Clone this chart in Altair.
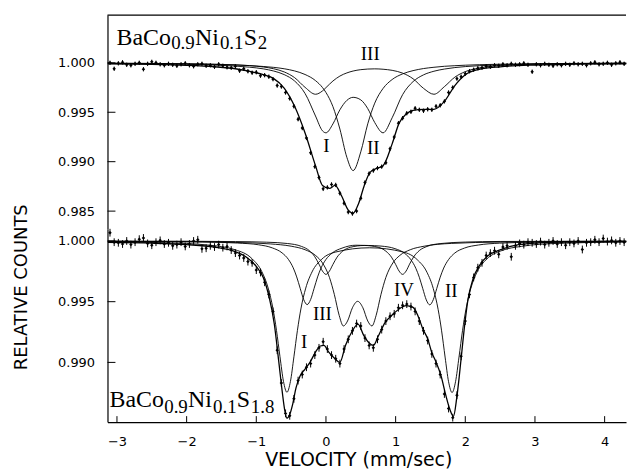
import altair as alt
import pandas as pd

# ---------------- data ----------------
velocity = [
    -3.10, -3.04, -2.98, -2.92, -2.86, -2.80, -2.74, -2.68, -2.62, -2.56,
    -2.50, -2.44, -2.38, -2.32, -2.26, -2.20, -2.14, -2.08, -2.02, -1.96,
    -1.90, -1.84, -1.78, -1.72, -1.66, -1.60, -1.54, -1.48, -1.42, -1.36,
    -1.30, -1.24, -1.18, -1.12, -1.06, -1.00, -0.94, -0.88, -0.82, -0.76,
    -0.70, -0.64, -0.58, -0.52, -0.46, -0.40, -0.34, -0.28, -0.22, -0.16,
    -0.10, -0.04, 0.02, 0.08, 0.14, 0.20, 0.26, 0.32, 0.38, 0.44,
    0.50, 0.56, 0.62, 0.68, 0.74, 0.80, 0.86, 0.92, 0.98, 1.04,
    1.10, 1.16, 1.22, 1.28, 1.34, 1.40, 1.46, 1.52, 1.58, 1.64,
    1.70, 1.76, 1.82, 1.88, 1.94, 2.00, 2.06, 2.12, 2.18, 2.24,
    2.30, 2.36, 2.42, 2.48, 2.54, 2.60, 2.66, 2.72, 2.78, 2.84,
    2.90, 2.96, 3.02, 3.08, 3.14, 3.20, 3.26, 3.32, 3.38, 3.44,
    3.50, 3.56, 3.62, 3.68, 3.74, 3.80, 3.86, 3.92, 3.98, 4.04,
    4.10, 4.16, 4.22, 4.28,
]

top_counts = [
    1.00000, 0.99940, 0.99995, 1.00005, 0.99980, 0.99975, 0.99990, 1.00000, 0.99935, 0.99990,
    1.00010, 1.00000, 0.99985, 0.99975, 0.99990, 0.99980, 0.99970, 0.99985, 0.99995, 0.99975,
    0.99965, 0.99985, 0.99990, 0.99970, 0.99975, 0.99960, 0.99985, 0.99970, 0.99955, 0.99950,
    0.99965, 0.99920, 0.99940, 0.99915, 0.99900, 0.99905, 0.99870, 0.99875, 0.99860, 0.99835,
    0.99770, 0.99760, 0.99700, 0.99640, 0.99560, 0.99430, 0.99340, 0.99240, 0.99090, 0.98950,
    0.98840, 0.98725, 0.98740, 0.98770, 0.98765, 0.98680, 0.98580, 0.98490, 0.98475, 0.98500,
    0.98630, 0.98790, 0.98880, 0.98910, 0.98935, 0.98950, 0.98990, 0.99130, 0.99250, 0.99390,
    0.99440, 0.99490, 0.99505, 0.99540, 0.99525, 0.99515, 0.99530, 0.99525, 0.99560, 0.99570,
    0.99610, 0.99700, 0.99750, 0.99840, 0.99860, 0.99890, 0.99915, 0.99930, 0.99945, 0.99950,
    0.99965, 0.99960, 0.99975, 0.99970, 0.99985, 0.99975, 0.99990, 0.99980, 0.99985, 0.99995,
    0.99980, 0.99910, 0.99985, 0.99975, 0.99990, 0.99980, 0.99970, 0.99985, 0.99975, 0.99990,
    0.99980, 0.99995, 0.99985, 0.99990, 0.99975, 0.99995, 1.00005, 0.99985, 0.99990, 1.00000,
    0.99980, 0.99995, 1.00005, 0.99990,
]

bottom_counts = [
    1.00068, 0.99990, 0.99985, 0.99975, 1.00000, 0.99970, 0.99990, 1.00015, 1.00025, 0.99980,
    0.99965, 0.99990, 1.00005, 0.99975, 0.99985, 0.99960, 0.99970, 0.99990, 0.99955, 0.99975,
    1.00000, 1.00010, 0.99935, 0.99940, 0.99960, 0.99950, 0.99970, 0.99945, 0.99955, 0.99925,
    0.99900, 0.99880, 0.99860, 0.99830, 0.99820, 0.99760, 0.99740, 0.99660, 0.99560, 0.99420,
    0.99100, 0.98830, 0.98580, 0.98560, 0.98700, 0.98850, 0.98900, 0.98960, 0.98990, 0.99060,
    0.99120, 0.99170, 0.99110, 0.99060, 0.99030, 0.98990, 0.99110, 0.99190, 0.99260, 0.99320,
    0.99300, 0.99200, 0.99140, 0.99120, 0.99190, 0.99270, 0.99340, 0.99380, 0.99400, 0.99450,
    0.99470, 0.99480, 0.99460, 0.99420, 0.99340, 0.99260, 0.99180, 0.99070, 0.98990, 0.98900,
    0.98740, 0.98620, 0.98545, 0.98730, 0.99050, 0.99340, 0.99560, 0.99700, 0.99780, 0.99820,
    0.99880, 0.99900, 0.99920, 0.99890, 0.99950, 0.99960, 0.99870, 0.99960, 0.99980, 0.99970,
    0.99990, 0.99985, 0.99975, 0.99995, 0.99970, 0.99985, 1.00000, 0.99975, 0.99990, 0.99965,
    0.99990, 0.99980, 1.00000, 0.99930, 0.99985, 0.99990, 1.00010, 0.99990, 1.00020, 0.99995,
    1.00005, 0.99985, 1.00000, 0.99990,
]

# top panel: total fit
top_fit_v = [-3.13, -2.5, -2.0, -1.6, -1.3, -1.1, -0.9, -0.75, -0.6, -0.45,
             -0.3, -0.15, -0.05, 0.05, 0.13, 0.22, 0.32, 0.39, 0.47, 0.55,
             0.63, 0.72, 0.82, 0.95, 1.05, 1.15, 1.25, 1.4, 1.55, 1.7,
             1.85, 2.0, 2.2, 2.5, 3.0, 3.6, 4.31]
top_fit_total = [0.9999, 0.99985, 0.99975, 0.9996, 0.9994, 0.99915, 0.9988, 0.9984, 0.99745, 0.9956,
                 0.9929, 0.9896, 0.9876, 0.9873, 0.9876, 0.9866, 0.9851, 0.9848, 0.9858, 0.9876,
                 0.9889, 0.9893, 0.9896, 0.9918, 0.9939, 0.9948, 0.9952, 0.9953, 0.9953, 0.9961,
                 0.9977, 0.9988, 0.99935, 0.9996, 0.99978, 0.99986, 0.9999]

# top panel: sub-spectra on a common velocity grid
top_grid = [-3.13, -2.5, -2.0, -1.6, -1.3, -1.1, -0.9, -0.75, -0.6, -0.45,
            -0.3, -0.15, -0.05, 0.0, 0.1, 0.2, 0.3, 0.39, 0.5, 0.6,
            0.7, 0.82, 0.95, 1.1, 1.25, 1.4, 1.55, 1.7, 1.85, 2.0,
            2.2, 2.5, 3.0, 3.6, 4.31]
top_sub_I_II = [0.99993, 0.9999, 0.99985, 0.99977, 0.99967, 0.99956, 0.99939, 0.99917, 0.99881, 0.99816,
                0.9969, 0.99462, 0.99312, 0.99292, 0.99382, 0.99525, 0.9962, 0.99651, 0.99625, 0.99537,
                0.99396, 0.99292, 0.99444, 0.99678, 0.9981, 0.99878, 0.99915, 0.99937, 0.99952, 0.99962,
                0.99971, 0.99979, 0.99987, 0.99992, 0.99995]
top_sub_center = [0.99995, 0.99993, 0.99989, 0.99984, 0.99978, 0.99972, 0.99963, 0.99954, 0.9994, 0.99918,
                  0.99882, 0.9982, 0.9975, 0.997, 0.99557, 0.9933, 0.99044, 0.9891, 0.991, 0.99383,
                  0.99592, 0.99741, 0.99831, 0.99888, 0.99921, 0.99942, 0.99955, 0.99965, 0.99971, 0.99976,
                  0.99981, 0.99986, 0.99991, 0.99994, 0.99996]
top_sub_III = [0.99996, 0.99994, 0.99991, 0.99986, 0.9998, 0.99972, 0.99958, 0.9994, 0.99908, 0.9985,
               0.99752, 0.99682, 0.99716, 0.99749, 0.99816, 0.99866, 0.99898, 0.99917, 0.99931, 0.99937,
               0.99939, 0.99935, 0.99924, 0.99896, 0.99839, 0.99742, 0.99682, 0.99759, 0.99855, 0.99911,
               0.99948, 0.99972, 0.99987, 0.99993, 0.99996]

# bottom panel: total fit
bot_fit_v = [-3.13, -2.5, -2.0, -1.6, -1.3, -1.15, -1.0, -0.9, -0.82, -0.74,
             -0.68, -0.63, -0.59, -0.56, -0.52, -0.48, -0.43, -0.37, -0.30, -0.23,
             -0.15, -0.08, -0.03, 0.04, 0.13, 0.20, 0.28, 0.37, 0.46, 0.54,
             0.62, 0.68, 0.75, 0.85, 0.95, 1.05, 1.15, 1.25, 1.32, 1.39,
             1.46, 1.52, 1.58, 1.65, 1.72, 1.78, 1.83, 1.88, 1.94, 1.99,
             2.04, 2.11, 2.20, 2.32, 2.46, 2.65, 2.9, 3.4, 4.31]
bot_fit_total = [0.99988, 0.99982, 0.9997, 0.9995, 0.99912, 0.9987, 0.9979, 0.997, 0.9955, 0.9931,
                 0.9902, 0.9877, 0.986, 0.9854, 0.9857, 0.9865, 0.9879, 0.9889, 0.98945, 0.99,
                 0.99085, 0.99135, 0.9914, 0.99085, 0.9903, 0.99, 0.9914, 0.9925, 0.99315, 0.99225,
                 0.9916, 0.9914, 0.99215, 0.9933, 0.9939, 0.9944, 0.99467, 0.99453, 0.99385, 0.99276,
                 0.99194, 0.9908, 0.99003, 0.98893, 0.9873, 0.9861, 0.98555, 0.9872, 0.9903, 0.99303,
                 0.99522, 0.99686, 0.99795, 0.99877, 0.99918, 0.99955, 0.99978, 0.9999, 0.99995]

# bottom panel: sub-spectra
bot_I_v = [-3.13, -2.3, -1.7, -1.3, -1.06, -0.92, -0.83, -0.76, -0.71, -0.66,
           -0.61, -0.56, -0.51, -0.46, -0.41, -0.36, -0.29, -0.2, -0.06, 0.14,
           0.625, 1.11, 1.31, 1.45, 1.54, 1.61, 1.66, 1.71, 1.76, 1.81,
           1.86, 1.91, 1.96, 2.01, 2.08, 2.17, 2.31, 2.51, 2.81, 3.31, 4.31]
bot_I = [0.99992, 0.99985, 0.99967, 0.99927, 0.99853, 0.99747, 0.99613, 0.99441, 0.99263, 0.99047,
         0.98844, 0.98754, 0.98843, 0.99046, 0.99262, 0.9944, 0.99612, 0.99745, 0.9985, 0.99909,
         0.99944, 0.99909, 0.99846, 0.99742, 0.99609, 0.99437, 0.9926, 0.99044, 0.98841, 0.98752,
         0.98841, 0.99045, 0.99261, 0.99439, 0.99611, 0.99746, 0.99852, 0.99918, 0.99956, 0.9998, 0.99992]
bot_II_v = [-3.13, -2.27, -1.77, -1.27, -0.97, -0.77, -0.63, -0.54, -0.47, -0.42,
            -0.37, -0.32, -0.27, -0.22, -0.17, -0.12, -0.07, 0.0, 0.09, 0.23,
            0.43, 0.61, 0.79, 0.99, 1.13, 1.22, 1.29, 1.34, 1.39, 1.44,
            1.49, 1.54, 1.59, 1.64, 1.69, 1.76, 1.85, 1.99, 2.19, 2.49, 2.99, 4.31]
bot_II = [0.99997, 0.99995, 0.99992, 0.99983, 0.99969, 0.99943, 0.99902, 0.99849, 0.99779, 0.99704,
          0.9961, 0.99518, 0.99476, 0.99518, 0.9961, 0.99704, 0.99778, 0.99848, 0.99901, 0.99941,
          0.99965, 0.99963, 0.99958, 0.99937, 0.99898, 0.99845, 0.99775, 0.99701, 0.99607, 0.99515,
          0.99474, 0.99516, 0.99608, 0.99702, 0.99777, 0.99847, 0.99901, 0.99942, 0.99967, 0.99982, 0.9999, 0.99997]
bot_III_v = [-3.13, -2.0, -1.3, -0.8, -0.5, -0.3, -0.15, -0.05, 0.05, 0.12,
             0.19, 0.25, 0.31, 0.38, 0.455, 0.53, 0.6, 0.66, 0.72, 0.79,
             0.86, 0.96, 1.06, 1.21, 1.41, 1.8, 2.5, 4.31]
bot_III = [0.99997, 0.99994, 0.99988, 0.99976, 0.99957, 0.99928, 0.99881, 0.99819, 0.997, 0.9956,
           0.99387, 0.993, 0.99341, 0.9945, 0.99503, 0.9945, 0.99341, 0.993, 0.99387, 0.9956,
           0.997, 0.99819, 0.99881, 0.99928, 0.99957, 0.9998, 0.99991, 0.99998]
bot_IV_v = [-3.13, -2.0, -1.3, -0.85, -0.55, -0.35, -0.24, -0.16, -0.1, -0.05,
            0.0, 0.05, 0.1, 0.16, 0.24, 0.35, 0.55, 0.75, 0.86, 0.94,
            1.0, 1.05, 1.1, 1.15, 1.2, 1.26, 1.34, 1.45, 1.65, 2.0, 2.5, 4.31]
bot_IV = [0.99999, 0.99998, 0.99995, 0.9999, 0.99979, 0.99955, 0.99921, 0.9987, 0.99809, 0.99752,
          0.99725, 0.99752, 0.99807, 0.99867, 0.99916, 0.99948, 0.99963, 0.99948, 0.99916, 0.99867,
          0.99807, 0.99752, 0.99725, 0.99752, 0.99809, 0.9987, 0.99921, 0.99955, 0.99979, 0.99991, 0.99996, 0.99999]

# annotations
top_roman = ["III", "I", "II"]
top_roman_v = [0.636, 0.007, 0.68]
top_roman_y = [1.00086, 0.99154, 0.99139]
bot_roman = ["I", "III", "IV", "II"]
bot_roman_v = [-0.314, -0.05, 1.12, 1.80]
bot_roman_y = [0.99168, 0.99402, 0.99594, 0.99590]

top_formula = ["BaCo", "0.9", "Ni", "0.1", "S", "2"]
top_formula_v = [-3.007, -2.222, -1.879, -1.522, -1.179, -0.979]
top_formula_y = [1.00181, 1.00141, 1.00181, 1.00141, 1.00181, 1.00141]
bot_formula = ["BaCo", "0.9", "Ni", "0.1", "S", "1.8"]
bot_formula_v = [-3.107, -2.322, -1.979, -1.622, -1.279, -1.079]
bot_formula_y = [0.98634, 0.98582, 0.98634, 0.98582, 0.98634, 0.98582]
formula_role = ["main", "sub", "main", "sub", "main", "sub"]

y_ticks_top = [1.000, 0.995, 0.990, 0.985]
y_ticks_bot = [1.000, 0.995, 0.990]
x_ticks = [-3, -2, -1, 0, 1, 2, 3, 4]

ERR_TOP = 0.00022
ERR_BOT = 0.00032

# ---------------- layout ----------------
W = 521
H_TOP = 215
H_BOT = 194
xs = alt.Scale(domain=[-3.136, 4.307], nice=False, zero=False)
ys_top = alt.Scale(domain=[0.983188, 1.004832], nice=False, zero=False)
ys_bot = alt.Scale(domain=[0.985082, 1.000984], nice=False, zero=False)

top_yaxis = alt.Axis(values=y_ticks_top, format=".3f", title=None, labelPadding=13)
bot_yaxis = alt.Axis(values=y_ticks_bot, format=".3f", title="RELATIVE COUNTS",
                     titleX=-86, titleY=58, titleAngle=270, titleAlign="center",
                     titleBaseline="middle", titleFontSize=18, labelPadding=13)
bot_xaxis = alt.Axis(values=x_ticks, format="d", title="VELOCITY (mm/sec)",
                     titleX=252, titleY=44, titleAlign="center", titleBaseline="alphabetic",
                     titleFontSize=19, labelPadding=14)


def panel(counts, err, comps, fit_v, fit_y, roman, roman_v, roman_y,
          formula, formula_v, formula_y, yscale, yaxis, xaxis, height, yticks, is_bottom):
    X = lambda f: alt.X(f"{f}:Q", scale=xs, axis=xaxis)
    Y = lambda f: alt.Y(f"{f}:Q", scale=yscale, axis=yaxis)

    pts = pd.DataFrame({"v": velocity, "y": counts})
    pts["lo"] = pts["y"] - err
    pts["hi"] = pts["y"] + err
    comp_df = pd.concat([pd.DataFrame({"v": cv, "y": cy, "c": name}) for name, cv, cy in comps])
    fit_df = pd.DataFrame({"v": fit_v, "y": fit_y})
    rom_df = pd.DataFrame({"label": roman, "v": roman_v, "y": roman_y})
    form_df = pd.DataFrame({"label": formula, "v": formula_v, "y": formula_y, "role": formula_role})

    layers = []
    layers.append(alt.Chart(pd.DataFrame({"t": yticks})).mark_rule(color="black", strokeWidth=1)
                  .encode(y=Y("t"), x=alt.value(0), x2=alt.value(8)))
    if is_bottom:
        layers.append(alt.Chart(pd.DataFrame({"t": x_ticks})).mark_rule(color="black", strokeWidth=1)
                      .encode(x=X("t"), y=alt.value(height), y2=alt.value(height - 6)))
    else:
        layers.append(alt.Chart(pd.DataFrame({"k": [0]})).mark_rule(color="black", strokeWidth=1.2)
                      .encode(x=alt.value(0), x2=alt.value(W), y=alt.value(0)))
    layers.append(alt.Chart(comp_df).mark_line(color="black", strokeWidth=0.9, interpolate="monotone")
                  .encode(x=X("v"), y=Y("y"), detail="c:N"))
    layers.append(alt.Chart(fit_df).mark_line(color="black", strokeWidth=1.3, interpolate="monotone")
                  .encode(x=X("v"), y=Y("y")))
    layers.append(alt.Chart(pts).mark_rule(color="black", strokeWidth=1)
                  .encode(x=X("v"), y=Y("lo"), y2="hi:Q"))
    layers.append(alt.Chart(pts).mark_point(shape="diamond", filled=True, size=12, color="black", opacity=1)
                  .encode(x=X("v"), y=Y("y")))
    layers.append(alt.Chart(rom_df).mark_text(font="Liberation Serif", fontSize=19, color="black")
                  .encode(x=X("v"), y=Y("y"), text="label:N"))
    layers.append(alt.Chart(form_df).transform_filter(alt.datum.role == "main")
                  .mark_text(font="Liberation Serif", fontSize=24, color="black", align="left", baseline="alphabetic")
                  .encode(x=X("v"), y=Y("y"), text="label:N"))
    layers.append(alt.Chart(form_df).transform_filter(alt.datum.role == "sub")
                  .mark_text(font="Liberation Serif", fontSize=19, color="black", align="left", baseline="alphabetic")
                  .encode(x=X("v"), y=Y("y"), text="label:N"))
    return alt.layer(*layers).properties(width=W, height=height)


top = panel(top_counts, ERR_TOP,
            [("I_II", top_grid, top_sub_I_II), ("center", top_grid, top_sub_center), ("III", top_grid, top_sub_III)],
            top_fit_v, top_fit_total, top_roman, top_roman_v, top_roman_y,
            top_formula, top_formula_v, top_formula_y, ys_top, top_yaxis, None, H_TOP, y_ticks_top, False)

bottom = panel(bottom_counts, ERR_BOT,
               [("I", bot_I_v, bot_I), ("II", bot_II_v, bot_II), ("III", bot_III_v, bot_III), ("IV", bot_IV_v, bot_IV)],
               bot_fit_v, bot_fit_total, bot_roman, bot_roman_v, bot_roman_y,
               bot_formula, bot_formula_v, bot_formula_y, ys_bot, bot_yaxis, bot_xaxis, H_BOT, y_ticks_bot, True)

chart = (
    alt.vconcat(top, bottom, spacing=0, bounds="flush")
    .properties(padding={"left": 13, "top": 13, "right": 0, "bottom": 0}, background="white")
    .configure_view(stroke=None)
    .configure_axis(grid=False, domainColor="black", domainWidth=1.2, ticks=False, tickSize=0,
                    labelFont="DejaVu Sans", labelFontSize=13, labelColor="black",
                    titleFont="DejaVu Sans", titleFontWeight="normal", titleColor="black")
)

chart.save("out.html", embed_options={"renderer": "svg", "actions": False})
